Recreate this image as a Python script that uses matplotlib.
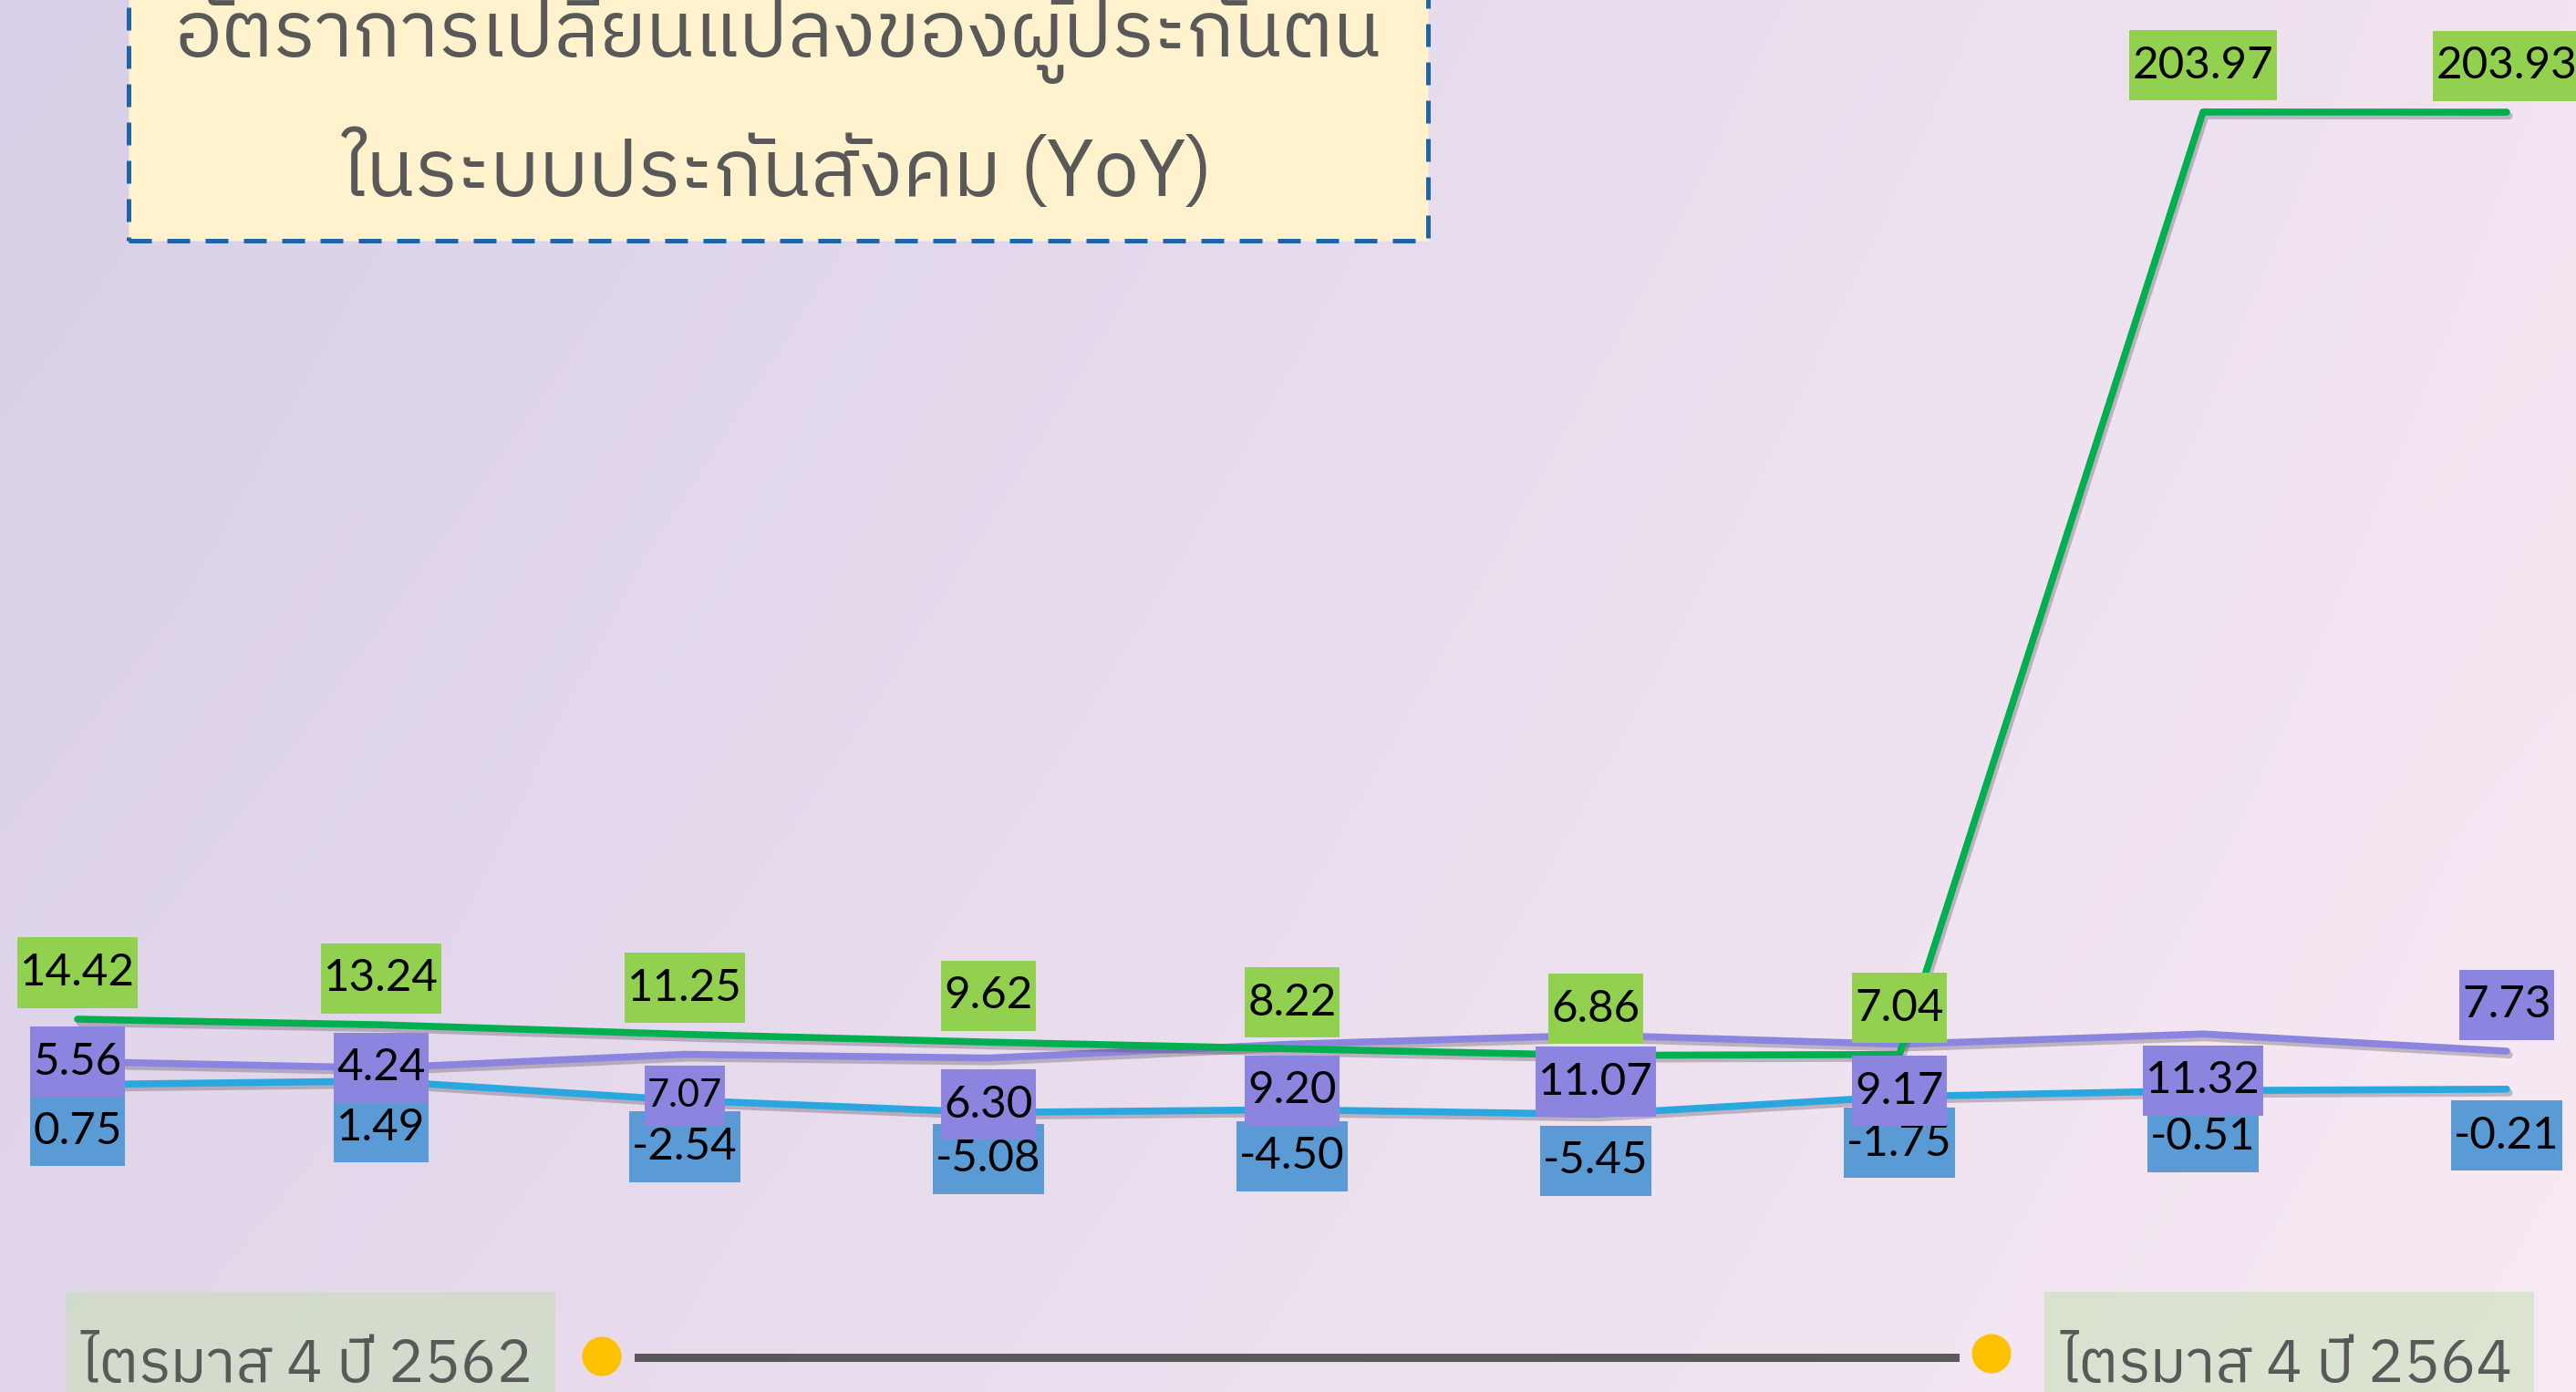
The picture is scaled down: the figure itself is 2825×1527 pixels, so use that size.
import numpy as np
import matplotlib
matplotlib.use('Agg')
import matplotlib.pyplot as plt
import matplotlib.patheffects as pe
from matplotlib import font_manager
from matplotlib.ft2font import FT2Font
from matplotlib.patches import Rectangle, Ellipse
from matplotlib.lines import Line2D
from matplotlib.transforms import IdentityTransform

# quarters Q4/2562 ... Q4/2564
quarters = list(range(9))
green_vals = [14.42, 13.24, 11.25, 9.62, 8.22, 6.86, 7.04, 203.97, 203.93]
purple_vals = [5.56, 4.24, 7.07, 6.30, 9.20, 11.07, 9.17, 11.32, 7.73]
blue_vals = [0.75, 1.49, -2.54, -5.08, -4.50, -5.45, -1.75, -0.51, -0.21]

title_lines = ['อัตราการเปลี่ยนแปลงของผู้ประกันตน', 'ในระบบประกันสังคม (YoY)']
start_label = 'ไตรมาส 4 ปี 2562'
end_label = 'ไตรมาส 4 ปี 2564'

# where each purple label sits: c = on point, b = below, t = above
purple_pos = ['c', 'c', 'b', 'b', 'b', 'b', 'b', 'b', 't']

# find a font that has Thai glyphs
thai_font = None
cands = sorted(font_manager.fontManager.ttflist,
               key=lambda f: (0 if 'Thai' in f.name else 1, f.name))
for f in cands:
    try:
        if 0x0E01 in FT2Font(f.fname).get_charmap():
            thai_font = f.name
            break
    except Exception:
        pass
thai_family = [thai_font, 'DejaVu Sans'] if thai_font else ['DejaVu Sans']

W, H = 2825, 1527
fig = plt.figure(figsize=(W / 100, H / 100), dpi=100)

# background gradient
tl = np.array([216, 208, 232]) / 255
tr = np.array([242, 228, 240]) / 255
bl = np.array([226, 214, 234]) / 255
br = np.array([247, 234, 244]) / 255
xx, yy = np.meshgrid(np.linspace(0, 1, 300), np.linspace(0, 1, 160))
img = ((1 - yy)[..., None] * ((1 - xx)[..., None] * tl + xx[..., None] * tr)
       + yy[..., None] * ((1 - xx)[..., None] * bl + xx[..., None] * br))
bg = fig.add_axes([0, 0, 1, 1])
bg.imshow(img, aspect='auto', extent=[0, 1, 0, 1], interpolation='bilinear')
bg.axis('off')

ax = fig.add_axes([0, 0, 1, 1])
ax.patch.set_alpha(0)
ax.axis('off')
x0, dx = 85, 333.0
y0, sy = 1193.7, 5.25
ax.set_xlim(-x0 / dx, (W - x0) / dx)
ax.set_ylim((y0 - H) / sy, y0 / sy)

shadow = [pe.SimpleLineShadow(offset=(2, -3), shadow_color='#4a4050', alpha=0.3), pe.Normal()]
ax.plot(quarters, blue_vals, color='#29A7DE', lw=5.5, solid_capstyle='round',
        path_effects=shadow, zorder=2)
ax.plot(quarters, purple_vals, color='#8C85E0', lw=5.5, solid_capstyle='round',
        path_effects=shadow, zorder=3)
ax.plot(quarters, green_vals, color='#00B050', lw=5.5, solid_capstyle='round',
        path_effects=shadow, zorder=4)

off = 36.7


def label(x, v, dy, fc, size=35.5):
    ax.annotate(f'{v:.2f}', (x, v), xytext=(0, dy), textcoords='offset points',
                ha='center', va='center', fontsize=size, family='Lato', color='black',
                bbox=dict(boxstyle='square,pad=0.07', mutation_aspect=4.8, fc=fc, ec='none'),
                zorder=6)


for x, v in zip(quarters, green_vals):
    label(x, v, off, '#92D050')
for x, v in zip(quarters, blue_vals):
    label(x, v, -off, '#5B9BD5')
for x, v, p in zip(quarters, purple_vals, purple_pos):
    if p == 'c':
        label(x, v, 0, '#8C85E0')
    elif p == 't':
        label(x, v, off, '#8C85E0')
    elif x == 2:
        label(x, v, -32.4, '#8C85E0', size=30)
    else:
        label(x, v, -off, '#8C85E0')

# title box
ident = IdentityTransform()
fig.add_artist(Rectangle((141, H - 264), 1425, 320, transform=ident,
                         fc='#FFF2CC', ec='#1F64A6', lw=3.6, ls=(0, (5, 3.4)), zorder=10))
fig.text(853, H - 62, title_lines[0], transform=ident, ha='center', va='baseline',
         fontsize=62, color='#595959', family=thai_family, zorder=11)
fig.text(853, H - 215, title_lines[1], transform=ident, ha='center', va='baseline',
         fontsize=63, color='#595959', family=thai_family, zorder=11)

# timeline at the bottom
fig.add_artist(Rectangle((72, 0), 537, 110, transform=ident, fc='#C5E0B4',
                         alpha=0.55, ec='none', zorder=10))
fig.add_artist(Rectangle((2242, 0), 537, 110, transform=ident, fc='#C5E0B4',
                         alpha=0.55, ec='none', zorder=10))
fig.text(337, 11, start_label, transform=ident, ha='center', va='baseline',
         fontsize=47.5, color='#595959', family=thai_family, zorder=11)
fig.text(2508, 11, end_label, transform=ident, ha='center', va='baseline',
         fontsize=47.5, color='#595959', family=thai_family, zorder=11)
fig.add_artist(Line2D([700, 2144], [38, 38], transform=ident, color='#595959',
                      lw=6.5, zorder=10))
fig.add_artist(Ellipse((660, 39), 43, 43, transform=ident, fc='#FFC000', ec='none', zorder=11))
fig.add_artist(Ellipse((2184, 42), 43, 43, transform=ident, fc='#FFC000', ec='none', zorder=11))

fig.savefig('out.png', dpi=100)
